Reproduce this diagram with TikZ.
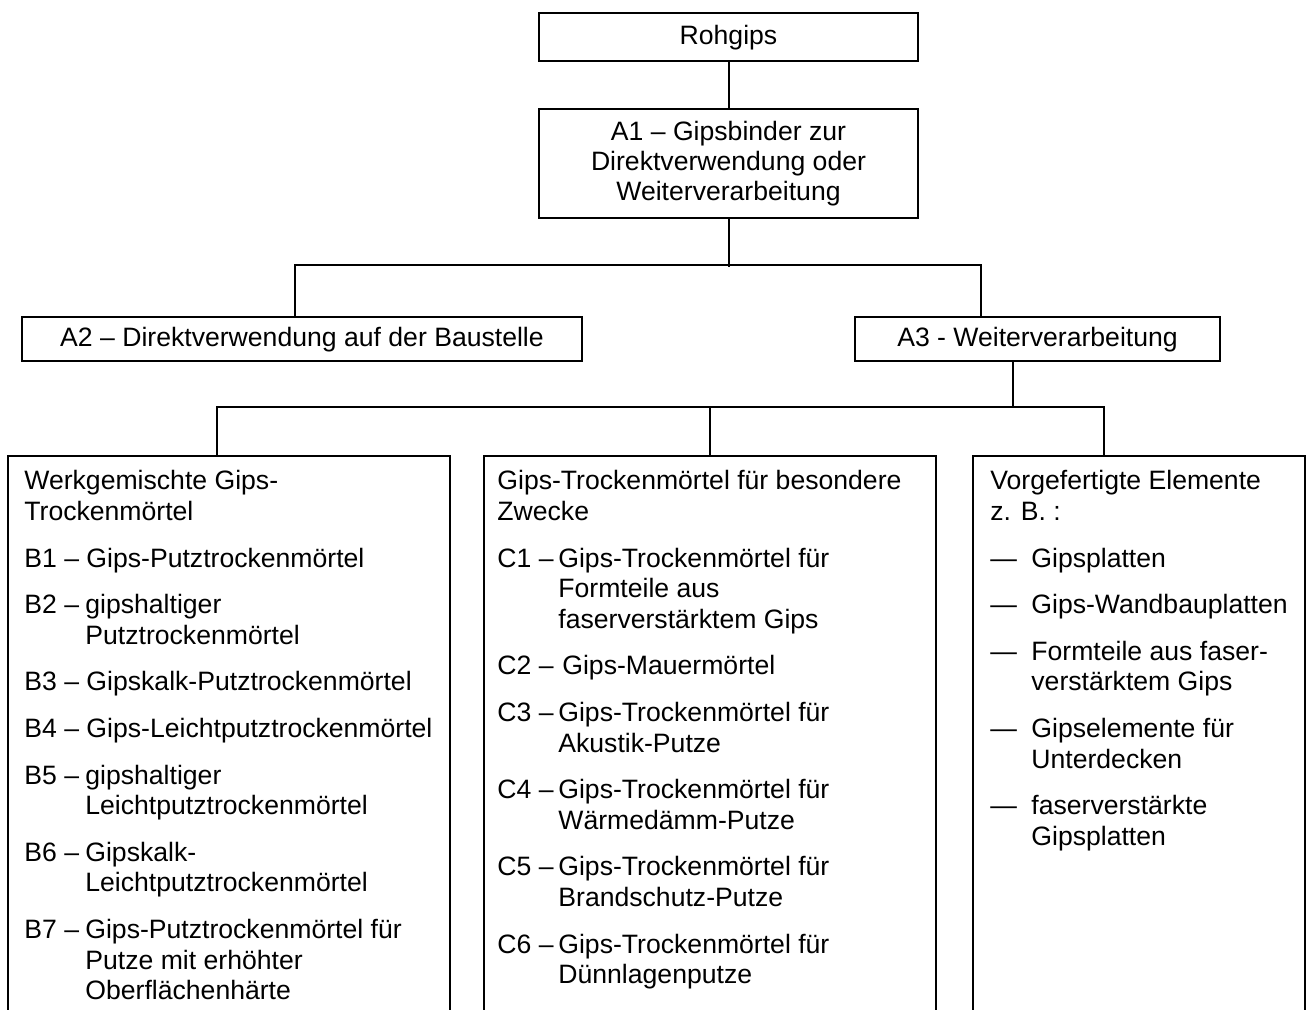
\documentclass[tikz,border=0pt]{standalone}
\usepackage{fontspec}
\setmainfont{Liberation Sans}
\usetikzlibrary{calc}
\begin{document}
\begin{tikzpicture}[x=0.5pt,y=-0.5pt,
  every node/.style={font=\fontsize{13.3}{15.3}\selectfont},
  box/.style={draw, line width=1pt, inner sep=0pt, align=center},
  frame/.style={draw=none, inner sep=0pt, minimum height=280pt},
  conn/.style={line width=1pt},
  side/.style={line width=1pt},
  col/.style={inner sep=0pt, anchor=north west, align=flush left}
]
\useasboundingbox (0,0) rectangle (1311,1010);
% top boxes
\node[box, minimum width=189.5pt, minimum height=24pt] (R) at (728.5,37.5) {Rohgips};
\node[box, minimum width=189.5pt, minimum height=54.5pt, font=\fontsize{13.3}{15}\selectfont] (A1) at (728.5,163.5)
  {A1 – Gipsbinder zur\\Direktverwendung oder\\Weiterverarbeitung};
\node[box, minimum width=280pt, minimum height=22pt] (A2) at (302,339.5) {A2 – Direktverwendung auf der Baustelle};
\node[box, minimum width=182.5pt, minimum height=22pt] (A3) at (1037.5,339.5) {A3 - Weiterverarbeitung};
% bottom frames (open at the bottom)
\node[frame, minimum width=221pt] (Bf) at (229,736) {};
\node[frame, minimum width=226pt] (Cf) at (710,736) {};
\node[frame, minimum width=166pt] (Df) at (1139,736) {};
\draw[side] (Bf.south west) -- (Bf.north west) -- (Bf.north east) -- (Bf.south east);
\draw[side] (Cf.south west) -- (Cf.north west) -- (Cf.north east) -- (Cf.south east);
\draw[side] (Df.south west) -- (Df.north west) -- (Df.north east) -- (Df.south east);
% connectors
\draw[conn] (R.south) -- (A1.north);
\draw[conn] (A1.south) -- ++(0,48) coordinate (j1);
\draw[conn] ($(A2.north)+(-7,0)$) -- ++(0,-51.5) -| ($(A3.north)+(-56.5,0)$);
\draw[conn] ($(A3.south)+(-24.5,0)$) -- ++(0,45.5) coordinate (j2);
\draw[conn] ($(Bf.north)+(-12,0)$) -- ++(0,-49) -| ($(Df.north)+(-35,0)$);
\draw[conn] (Cf.north) -- (Cf.north |- j2);
% column texts
\node[col, text width=215pt] (Bt) at (24,468) {\strut Werkgemischte Gips-\\Trockenmörtel\\[8pt]
B1 – Gips-Putztrockenmörtel\\[8pt]
\makebox[30.5pt][l]{B2 – }gipshaltiger\\\hspace*{30.5pt}Putztrockenmörtel\\[8pt]
B3 – Gipskalk-Putztrockenmörtel\\[8pt]
B4 – Gips-Leichtputztrockenmörtel\\[8pt]
\makebox[30.5pt][l]{B5 – }gipshaltiger\\\hspace*{30.5pt}Leichtputztrockenmörtel\\[8pt]
\makebox[30.5pt][l]{B6 – }Gipskalk-\\\hspace*{30.5pt}Leichtputztrockenmörtel\\[8pt]
\makebox[30.5pt][l]{B7 – }Gips-Putztrockenmörtel für\\\hspace*{30.5pt}Putze mit erhöhter\\\hspace*{30.5pt}Oberflächenhärte};
\node[col, text width=220pt] (Ct) at (497,468) {\strut Gips-Trockenmörtel für besondere\\Zwecke\\[8pt]
\makebox[30.5pt][l]{C1 –}Gips-Trockenmörtel für\\\hspace*{30.5pt}Formteile aus\\\hspace*{30.5pt}faserverstärktem Gips\\[8pt]
\makebox[32.5pt][l]{C2 –}Gips-Mauermörtel\\[8pt]
\makebox[30.5pt][l]{C3 –}Gips-Trockenmörtel für\\\hspace*{30.5pt}Akustik-Putze\\[8pt]
\makebox[30.5pt][l]{C4 –}Gips-Trockenmörtel für\\\hspace*{30.5pt}Wärmedämm-Putze\\[8pt]
\makebox[30.5pt][l]{C5 –}Gips-Trockenmörtel für\\\hspace*{30.5pt}Brandschutz-Putze\\[8pt]
\makebox[30.5pt][l]{C6 –}Gips-Trockenmörtel für\\\hspace*{30.5pt}Dünnlagenputze};
\node[col, text width=160pt] (Dt) at (990,468) {\strut Vorgefertigte Elemente\\z. B. :\\[8pt]
\makebox[20.5pt][l]{—}Gipsplatten\\[8pt]
\makebox[20.5pt][l]{—}Gips-Wandbauplatten\\[8pt]
\makebox[20.5pt][l]{—}Formteile aus faser-\\\hspace*{20.5pt}verstärktem Gips\\[8pt]
\makebox[20.5pt][l]{—}Gipselemente für\\\hspace*{20.5pt}Unterdecken\\[8pt]
\makebox[20.5pt][l]{—}faserverstärkte\\\hspace*{20.5pt}Gipsplatten};
\end{tikzpicture}
\end{document}
